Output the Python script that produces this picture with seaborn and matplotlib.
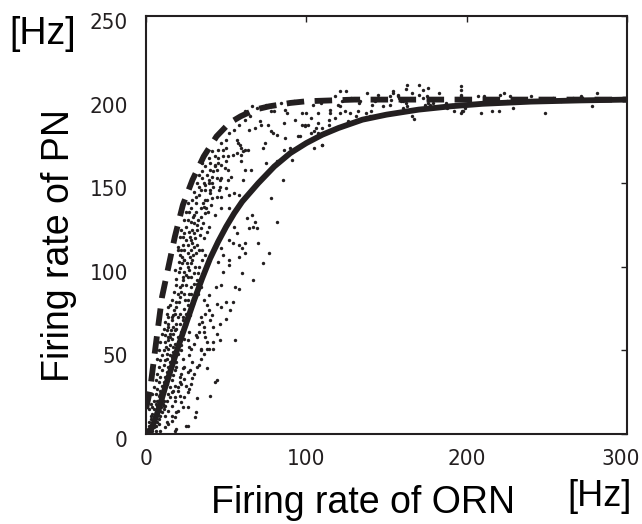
import matplotlib
matplotlib.use("Agg")
import matplotlib.pyplot as plt
from matplotlib.transforms import ScaledTranslation
import seaborn as sns
import pandas as pd

# ---- data ----
solid_orn = [2, 5, 8, 12, 16, 20, 25, 30, 35, 40, 45, 50, 55, 60, 70, 80, 90, 100, 110,
             120, 135, 150, 170, 190, 210, 240, 270, 300]
solid_pn = [0, 7, 15, 28, 40, 52, 66, 80, 93, 105, 115, 124, 132, 139, 150, 160, 168, 174, 179,
            183, 188, 191, 194, 196, 197.5, 198.8, 199.5, 200]

dash_orn = [0, 2.5, 5, 7, 10, 14, 18, 23, 29, 36, 44, 52, 59, 68, 77, 90, 100, 130, 300]
dash_pn = [15, 26, 45, 60, 82, 100, 118, 137, 152, 166, 178, 186, 190, 194, 196, 198, 199, 200, 200]

dots_orn = [
    121, 125, 163, 170, 196.6, 196.6, 173, 166, 154, 152, 157, 153, 158, 160, 162, 175, 176, 176, 179,
    162, 166, 187, 188, 199, 197.6, 133, 132, 131, 127, 122.5, 121, 120, 124, 121, 115, 115, 114, 114,
    107, 109, 100, 99, 101, 103, 107, 106, 104.5, 103, 107, 110, 105, 96,
    133.5, 137, 140.6, 140, 141, 152, 154, 157, 159, 160, 163, 162, 170, 173, 174, 177, 176, 167, 183,
    191, 192, 196.6, 197, 196.6, 196.6, 207, 209, 211, 216, 220, 221, 223, 227, 225, 229, 235, 240,
    249, 254, 259, 266.5, 271, 278, 281,
    69, 78, 80, 87, 88, 97, 71, 72, 68, 78, 79, 82, 87, 97, 99, 74, 73, 86, 90, 95, 56.5, 57.5, 58.5,
    59.5, 61.5, 63.5, 60.5, 56.5, 54.5, 59.5, 50, 41, 48, 51, 50, 47, 45, 43, 40, 44, 49, 51, 59.5,
    61.5, 65.5, 53, 47, 44, 82, 75, 91, 109.6, 85.7,
    39, 41, 46, 51, 60.5, 50, 45.5, 40, 37, 52, 55, 58, 47, 41, 36.5, 35.5, 40.5, 37.5, 34, 31, 36.5,
    38.5, 43, 47, 52, 78, 82, 66, 63, 68, 67, 69, 64, 55, 57, 52, 54, 58, 62, 60, 70, 77, 62, 58, 48,
    47, 52, 45, 37, 35, 32, 29, 25, 26.5, 27.5, 30.5, 33.5, 34.5, 31.5, 29, 35.5, 39.5, 32.5, 29.5,
    29.5, 27.5, 22.5, 23.5, 20.5,
    73, 67, 60, 52, 48, 55.5, 58, 47, 43.5, 39, 44, 50, 54, 52.4, 47, 39.5, 36.5, 41, 50, 46, 35, 33,
    36, 33, 36, 31, 44, 46, 42, 38, 55.5, 39, 34, 28, 26, 27, 25, 29.5, 32.6, 31.6, 32.6, 30.5, 28,
    25.5, 22.5, 20.5, 26, 28, 22.5, 18.5, 17.5, 23.5, 24.5, 20.5, 17.5, 21.5, 16.5, 13.5, 15.5, 13.5,
    12.5, 24.5, 27.7,
    44, 40, 30.6, 25, 18, 38, 42, 34, 38, 33, 29, 27.5, 29, 25, 27, 31.6, 23, 26, 19, 16, 13, 21, 18,
    21, 23, 19, 23, 27, 17, 22, 27, 15, 16, 11, 8, 43, 31, 26, 19,
    0.5, 1, 1.5, 2, 2.5, 3, 1, 2, 3.5, 4, 4.5, 5, 5.5, 6, 6.5, 7, 7.5, 8, 8.5, 9, 9.5, 10, 10.5, 11,
    11.5, 12, 3, 4, 5, 6, 7, 8, 9, 10, 11, 12, 13, 14, 15, 16, 17, 2, 3, 4, 5, 6, 7, 8, 9, 10, 11, 12,
    13, 14, 5, 6, 7, 8, 9, 10, 11, 12, 13, 14, 15, 16, 17, 18, 19, 13, 14, 15, 17, 18, 20, 21, 22, 24,
    2, 3, 4, 5, 6, 7, 8, 9, 10, 11, 12, 14, 15, 16, 18, 19, 20, 17, 19, 21, 22, 23, 24, 19, 21, 18, 20,
    22, 20, 22, 24, 15, 17, 23, 25, 26, 27, 28, 25, 24, 26, 28, 30, 22, 23, 27, 25, 28, 30, 31, 33, 34,
    36, 38, 40, 42, 35, 37, 39, 43, 45, 47, 30, 32, 33, 35, 29, 27, 26, 24, 23, 21, 20, 18, 16, 15, 14,
    13, 12,
    20, 21, 22, 24, 25, 26, 28, 30, 31, 33, 35, 37, 39, 41, 43, 45, 48, 50, 52, 55, 58, 62, 65, 28, 30,
    32, 34, 36, 38, 40, 42, 44, 46, 33, 36, 38, 24, 26, 25, 27, 29, 31, 30, 33, 35,
    14, 16, 18, 19, 20, 21, 23, 15, 17, 19, 21, 23, 24, 26, 28, 30, 32, 34, 36, 38, 40, 42, 37, 30, 32,
    34,
    6, 9, 12, 14, 16, 18, 20, 22, 24, 26, 28, 30, 32, 34, 36, 12, 14, 16, 18, 20, 22, 24, 26, 13, 15,
    17, 7, 8, 9, 10, 11, 12, 13, 14,
    62, 66, 75, 84, 92, 104, 112, 118, 128, 138, 145, 148, 143, 93, 86, 76, 64, 118, 126, 110,
]
dots_pn = [
    205, 205, 209, 209, 208, 203, 206, 204, 205, 202, 203, 200, 201, 199, 198, 202, 200, 198, 198,
    194, 190, 198, 195, 195, 193, 198, 193, 190, 192, 199, 196, 197, 193, 192, 194, 192, 188, 185,
    192, 198, 192, 185, 185, 189, 186, 183, 181, 180, 180, 173, 171, 178,
    199, 192, 193, 190, 197, 197, 204, 202, 199, 195, 196, 206.5, 203, 201, 197, 197, 207, 188.5, 204,
    197, 193, 192, 193, 206, 202, 202, 192, 202, 193, 193, 203, 204, 202, 199, 195, 200, 202,
    192, 201, 199, 201, 202, 196, 204,
    195, 193, 193, 194, 192, 192, 187, 185, 183, 181, 180, 179, 177, 185, 184, 174, 171, 170, 171, 178,
    176, 174, 173, 171, 170, 170, 169, 168, 167, 167, 171, 169, 166, 166, 163, 161, 162, 161, 162, 158,
    159, 158, 163, 158, 158, 154, 153, 153, 163, 162, 164, 173, 152,
    152, 150, 152, 152, 152, 147, 146, 146, 149, 143, 144, 143, 142, 141, 140, 138, 137, 135, 135, 133,
    132, 133, 131, 135, 135, 141, 127, 131, 129, 127, 124, 123, 123, 124, 120, 116, 114, 113, 114, 111,
    114, 108, 108, 106, 107, 111, 104, 103, 107, 110, 113, 114, 116, 113, 118, 117, 119, 123, 122, 122,
    126, 124, 128, 130, 107, 106, 106, 104, 103,
    102, 92, 96, 101, 97, 88, 87, 89, 88, 83, 78, 79, 79, 74, 76, 74, 72, 71, 69, 66, 67, 66, 64, 61,
    61, 59, 60, 56, 55, 55, 56, 51, 51, 51, 56, 61, 65, 78, 84, 89.5, 96, 100, 102, 102, 102, 97, 94,
    94, 89, 89, 85, 84, 80, 79, 74, 72, 68, 66, 62, 56, 52, 64, 71,
    32, 23, 10, 5, 2, 51, 51, 50, 39.5, 41, 43, 38, 33.5, 29, 27, 21.5, 16, 16, 13, 11, 7, 23, 29, 34,
    39.5, 43, 45, 47, 47, 50, 52, 37, 25, 17, 6, 31, 13, 5, 3,
    0.5, 1.5, 0.8, 2.5, 1.2, 3.5, 3, 4.5, 5, 2, 6, 4, 8, 5, 10, 7, 12, 9, 14, 11, 16, 13, 18, 15, 20,
    17, 9, 12, 15, 18, 20, 23, 26, 29, 31, 34, 37, 40, 43, 46, 49, 7, 11, 16, 20, 24, 27, 31, 34, 38,
    41, 44, 48, 51, 10, 13, 17, 20, 24, 21, 25, 28, 30, 33, 28, 32, 35, 38, 40, 20, 24, 22, 26, 20, 28,
    31, 36, 40, 15, 18, 24, 28, 32, 36, 40, 44, 47, 50, 55, 58, 60, 57, 62, 66, 70, 71, 76, 82, 85, 92,
    97, 93, 99, 54, 58, 61, 48, 53, 57, 53, 64, 68, 72, 77, 84, 88, 89, 104, 108, 110, 112, 110, 113,
    121, 124, 127, 126, 138, 143, 146, 150, 155, 158, 157, 157, 160, 165, 166, 170, 174, 145, 150, 155,
    162, 140, 133, 128, 120, 118, 107, 110, 98, 80, 77, 70, 62, 59,
    112, 118, 122, 128, 133, 138, 135, 131, 142, 148, 153, 146, 150, 154, 160, 165, 170, 176, 180, 182,
    185, 188, 190, 116, 120, 125, 130, 136, 140, 144, 148, 142, 148, 110, 117, 121, 110, 100, 95, 98,
    104, 108, 96, 100, 104,
    64, 70, 72, 79, 84, 88, 94, 58, 60, 63, 66, 70, 75, 80, 84, 90, 92, 88, 80, 77, 68, 64, 58, 54, 58,
    70,
    2, 2, 4, 6, 8, 10, 14, 19, 22, 25, 30, 36, 40, 45, 48, 11, 14, 17, 22, 26, 30, 33, 37, 45, 47, 52,
    45, 50, 55, 60, 63, 67, 72, 76,
    193, 196, 197, 198, 199, 197, 200, 202, 201, 204, 203, 196, 199, 188, 186, 185, 182, 189, 187, 183,
]

x_ticks = [0, 100, 200, 300]
y_ticks = [0, 50, 100, 150, 200, 250]
x_label = "Firing rate of ORN"
y_label = "Firing rate of PN"
unit = "[Hz]"

INK = "#231f20"

sns.set_theme(style="white")
plt.rcParams["font.family"] = ["Liberation Sans", "DejaVu Sans"]

fig = plt.figure(figsize=(6.42, 5.24), dpi=100)
ax = fig.add_axes([146 / 642, 1 - 434 / 524, (627 - 146) / 642, (434 - 16) / 524])

dots = pd.DataFrame({"orn": dots_orn, "pn": dots_pn})
sns.scatterplot(data=dots, x="orn", y="pn", ax=ax, s=6, color=INK, linewidth=0,
                marker="o", legend=False, zorder=2)

solid = pd.DataFrame({"orn": solid_orn, "pn": solid_pn})
sns.lineplot(data=solid, x="orn", y="pn", ax=ax, color=INK, lw=4.2,
             estimator=None, legend=False, zorder=3)

dash = pd.DataFrame({"orn": dash_orn, "pn": dash_pn})
sns.lineplot(data=dash, x="orn", y="pn", ax=ax, color=INK, lw=4.2,
             estimator=None, legend=False, zorder=3)
ax.lines[-1].set_dashes((3.0, 1.8))
ax.lines[-1].set_dash_capstyle("butt")

ax.set_xlim(0, 300)
ax.set_ylim(0, 250)
ax.set_xticks(x_ticks)
ax.set_yticks(y_ticks)
ax.set_xlabel("")
ax.set_ylabel("")
for sp in ax.spines.values():
    sp.set_visible(True)
    sp.set_color(INK)
    sp.set_linewidth(1.5)

ax.tick_params(axis="both", which="both", direction="in", length=4, width=1.0,
               color=INK, labelcolor=INK, top=True, right=True,
               labelsize=16)
ax.tick_params(axis="y", pad=13)
ax.tick_params(axis="x", pad=11)
for lab in ax.get_yticklabels() + ax.get_xticklabels():
    lab.set_fontfamily("DejaVu Sans")
    lab.set_fontstretch("condensed")
for lab in ax.get_yticklabels():
    lab.set_transform(lab.get_transform() + ScaledTranslation(0, -5 / 100, fig.dpi_scale_trans))
xl = ax.get_xticklabels()
xl[-1].set_transform(xl[-1].get_transform() + ScaledTranslation(-6 / 100, 0, fig.dpi_scale_trans))

fig.text(59 / 642, 1 - 246 / 524, y_label, rotation=90, ha="center", va="center",
         fontsize=27, color="black")
fig.text(363 / 642, 1 - 513 / 524, x_label, ha="center", va="baseline",
         fontsize=27, color="black")
fig.text(43 / 642, 1 - 44 / 524, unit, ha="center", va="baseline",
         fontsize=27, color="black")
fig.text(600 / 642, 1 - 506 / 524, unit, ha="center", va="baseline",
         fontsize=26, color="black")

fig.savefig("out.png", dpi=100)
